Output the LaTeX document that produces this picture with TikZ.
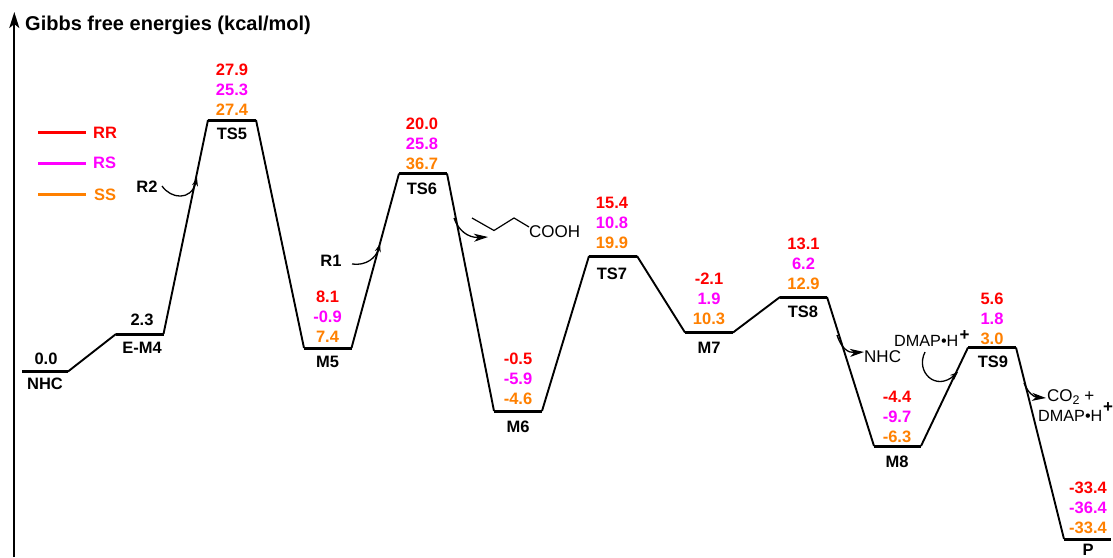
\documentclass[tikz,border=0pt]{standalone}
\usepackage{fontspec}
\setmainfont{Liberation Sans}
\usetikzlibrary{arrows.meta}
\definecolor{cRR}{RGB}{255,0,0}
\definecolor{cRS}{RGB}{255,0,255}
\definecolor{cSS}{RGB}{255,128,0}
\tikzset{x=1pt,y=-1pt,
 lvl/.style={line width=3pt},
 conn/.style={line width=1.9pt},
 lab/.style={font=\fontsize{16.5}{16.5}\selectfont\bfseries,inner sep=0pt,anchor=center},
 plain/.style={font=\fontsize{17}{17}\selectfont,inner sep=0pt,anchor=center},
 dmapt/.style={font=\fontsize{16.2}{16.2}\selectfont,inner sep=0pt,anchor=west},
 plusmark/.style={font=\fontsize{17}{17}\selectfont\bfseries,inner sep=0pt},
 rr/.style={lab,text=cRR},rs/.style={lab,text=cRS},ss/.style={lab,text=cSS},
 curv/.style={line width=1.3pt,-{Stealth[length=8pt,width=6pt]}},
 curvb/.style={line width=1.3pt,-{Stealth[length=14pt,width=8pt,inset=4pt]}}
}
\newcommand{\lev}[4]{\coordinate (#1L) at (#2,#4);\coordinate (#1R) at (#3,#4);\draw[lvl] (#1L) -- (#1R);}
\newcommand{\vals}[6]{%
 \node[rr] (#1a) at (#2,#3-53) {#4};\node[rs] (#1b) at (#2,#3-33) {#5};\node[ss] (#1c) at (#2,#3-13) {#6};}
\begin{document}
\begin{tikzpicture}
\useasboundingbox (0,0) rectangle (1113,557);
\fill[white] (0,0) rectangle (1113,557);
% axis
\coordinate (ax0) at (14.3,557);\coordinate (ax1) at (14.3,12);
\draw[line width=2.2pt,-{Stealth[length=16pt,width=10pt,inset=4pt]}] (ax0) -- (ax1);
\node[lab,font=\fontsize{20}{20}\selectfont\bfseries,anchor=west] (title) at (25,25) {Gibbs free energies (kcal/mol)};
% legend
\coordinate (l1a) at (38,132);\coordinate (l1b) at (86,132);
\coordinate (l2a) at (38,163);\coordinate (l2b) at (86,163);
\coordinate (l3a) at (38,194);\coordinate (l3b) at (86,194);
\draw[cRR,lvl] (l1a) -- (l1b);\draw[cRS,lvl] (l2a) -- (l2b);\draw[cSS,lvl] (l3a) -- (l3b);
\node[rr,anchor=west] (tRR) at (93,132.5) {RR};
\node[rs,anchor=west] (tRS) at (93,162.5) {RS};
\node[ss,anchor=west] (tSS) at (94,194.5) {SS};
% levels
\lev{nhc}{22}{68}{371.5}
\lev{em}{116}{163.5}{334}
\lev{ts5}{208}{256}{120}
\lev{m5}{304}{351.5}{348}
\lev{ts6}{399}{447}{173.5}
\lev{m6}{494}{542}{411}
\lev{ts7}{589}{637}{256}
\lev{m7}{685}{733}{332.5}
\lev{ts8}{780}{827}{297}
\lev{m8}{874}{921}{446}
\lev{ts9}{968}{1016}{347.5}
\lev{p}{1064}{1111}{539}
% connectors
\draw[conn] (nhcR) -- (emL);
\draw[conn] (emR) -- (ts5L);
\draw[conn] (ts5R) -- (m5L);
\draw[conn] (m5R) -- (ts6L);
\draw[conn] (ts6R) -- (m6L);
\draw[conn] (m6R) -- (ts7L);
\draw[conn] (ts7R) -- (m7L);
\draw[conn] (m7R) -- (ts8L);
\draw[conn] (ts8R) -- (m8L);
\draw[conn] (m8R) -- (ts9L);
\draw[conn] (ts9R) -- (pL);
% names
\node[lab] (nNHC) at (45,384) {NHC};
\node[lab] (nEM) at (142,348) {E-M4};
\node[lab] (nTS5) at (232,134) {TS5};
\node[lab] (nM5) at (327.5,362) {M5};
\node[lab] (nTS6) at (422,188.5) {TS6};
\node[lab] (nM6) at (518,427) {M6};
\node[lab] (nTS7) at (612,274) {TS7};
\node[lab] (nM7) at (709,348) {M7};
\node[lab] (nTS8) at (803,312) {TS8};
\node[lab] (nM8) at (897,462) {M8};
\node[lab] (nTS9) at (993,362) {TS9};
\node[lab] (nP) at (1088,550) {P};
% values
\node[lab] (vNHC) at (46,359) {0.0};
\node[lab] (vEM) at (142,320) {2.3};
\vals{ts5}{232}{123}{27.9}{25.3}{27.4}
\vals{m5}{327.5}{350}{8.1}{-0.9}{7.4}
\vals{ts6}{422}{177}{20.0}{25.8}{36.7}
\vals{m6}{518}{412}{-0.5}{-5.9}{-4.6}
\vals{ts7}{612}{256}{15.4}{10.8}{19.9}
\vals{m7}{709}{332}{-2.1}{1.9}{10.3}
\vals{ts8}{803.5}{297}{13.1}{6.2}{12.9}
\vals{m8}{897}{449.5}{-4.4}{-9.7}{-6.3}
\vals{ts9}{992}{352}{5.6}{1.8}{3.0}
\vals{p}{1088}{541}{-33.4}{-36.4}{-33.4}
% reagent arrows
\node[lab] (R2) at (147,187) {R2};
\coordinate (r2s) at (162,186);\coordinate (r2e) at (197,178);
\draw[curv] (r2s) .. controls (171,199) and (191,201) .. (r2e);
\node[lab] (R1) at (331,261) {R1};
\coordinate (r1s) at (352,264);\coordinate (r1e) at (380,244);
\draw[curv] (r1s) .. controls (366,266) and (376,258) .. (r1e);
% butyric acid
\coordinate (bu1) at (472,218);\coordinate (bu2) at (494,230.5);\coordinate (bu3) at (514,218);\coordinate (bu4) at (529,227);
\draw[line width=1.2pt] (bu1) -- (bu2) -- (bu3) -- (bu4);
\node[plain,anchor=west] (cooh) at (529,232) {COOH};
\coordinate (a6s) at (454,218);\coordinate (a6e) at (488,237);
\draw[curvb] (a6s) .. controls (458,230) and (468,238) .. (a6e);
% NHC out
\node[plain,anchor=west] (oNHC) at (864,357) {NHC};
\coordinate (a8s) at (837,335);\coordinate (a8e) at (864,352);
\draw[curvb] (a8s) .. controls (841,348) and (848,353) .. (a8e);
% DMAP-H in
\node[dmapt] (dmap1) at (894,341) {DMAP•H};
\node[plusmark] (plus1) at (964.5,336) {+};
\coordinate (a9s) at (925,352);\coordinate (a9e) at (958,372);
\draw[curv] (a9s) .. controls (915,372) and (936,392) .. (a9e);
% CO2 out
\node[plain,anchor=west] (co2) at (1047,397) {CO\raisebox{-3pt}{\fontsize{12.5}{12.5}\selectfont 2} +};
\node[dmapt] (dmap2) at (1038,415.5) {DMAP•H};
\node[plusmark] (plus2) at (1108,408) {+};
\coordinate (a10s) at (1024,383);\coordinate (a10e) at (1046,398);
\draw[curvb] (a10s) .. controls (1028,393) and (1034,397) .. (a10e);
\end{tikzpicture}
\end{document}
